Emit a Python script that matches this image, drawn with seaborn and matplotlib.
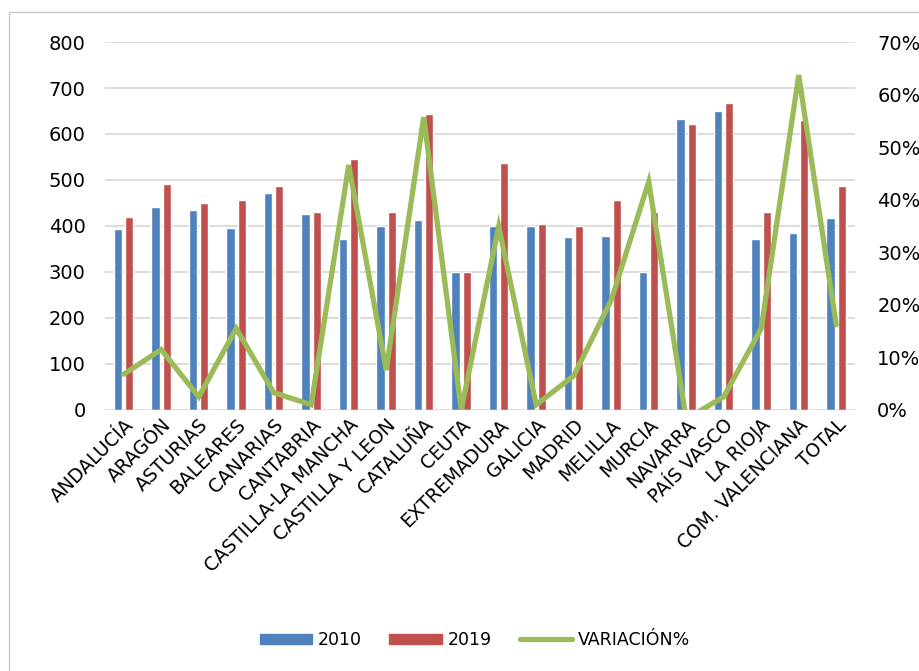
import matplotlib
matplotlib.use("Agg")
import matplotlib.pyplot as plt
import matplotlib.lines as mlines
import matplotlib.patches as mpatches
import pandas as pd
import seaborn as sns

# Data
regions = ["ANDALUCÍA", "ARAGÓN", "ASTURIAS", "BALEARES", "CANARIAS", "CANTABRIA",
           "CASTILLA-LA MANCHA", "CASTILLA Y LEON", "CATALUÑA", "CEUTA", "EXTREMADURA",
           "GALICIA", "MADRID", "MELILLA", "MURCIA", "NAVARRA", "PAÍS VASCO",
           "LA RIOJA", "COM. VALENCIANA", "TOTAL"]
v2010 = [393, 441, 435, 396, 472, 426, 372, 399, 413, 300, 400,
         400, 375, 379, 300, 633, 650, 372, 384, 417]
v2019 = [419, 491, 449, 457, 488, 430, 546, 430, 644, 300, 537,
         404, 399, 457, 430, 622, 667, 430, 630, 486]
variacion = [6.8, 11.5, 2.5, 15.5, 3.3, 1.0, 46.6, 7.6, 55.7, 0.0, 34.9,
             1.0, 6.5, 20.9, 43.4, -1.7, 2.5, 15.5, 63.7, 16.2]

BLUE = "#4F81BD"
RED = "#C0504D"
GREEN = "#9BBB59"

sns.set_style("white")
plt.rcParams["font.family"] = ["DejaVu Sans"]
plt.rcParams["text.color"] = "black"
plt.rcParams["xtick.color"] = "black"
plt.rcParams["ytick.color"] = "black"

bars = pd.DataFrame({
    "region": regions * 2,
    "valor": v2010 + v2019,
    "serie": ["2010"] * len(regions) + ["2019"] * len(regions),
})
line = pd.DataFrame({"region": regions, "var": [v / 100 for v in variacion]})

fig = plt.figure(figsize=(9.2, 6.71), dpi=100)
ax = fig.add_axes([0.1141, 0.389, 0.8152, 0.5484])

sns.barplot(data=bars, x="region", y="valor", hue="serie",
            palette=[BLUE, RED], saturation=1, width=0.59, gap=0.24, ax=ax,
            legend=False, zorder=2)
ax.set_xlim(-0.5, len(regions) - 0.5)
ax.set_ylim(0, 800)
ax.set_yticks(range(0, 801, 100))
ax.yaxis.grid(True, color="#D9D9D9", linewidth=1.3, zorder=0)
ax.set_axisbelow(True)
ax.set_xlabel("")
ax.set_ylabel("")
for s in ax.spines.values():
    s.set_visible(False)
ax.tick_params(axis="y", length=0, pad=14, labelsize=14)
ax.tick_params(axis="x", length=0, pad=4, labelsize=13.5)
plt.setp(ax.get_xticklabels(), rotation=45, ha="right", rotation_mode="anchor")

ax2 = ax.twinx()
sns.lineplot(data=line, x="region", y="var", color=GREEN, linewidth=3.8,
             sort=False, ax=ax2, solid_joinstyle="miter")
ax2.set_ylim(0, 0.7)
ax2.set_yticks([i / 10 for i in range(8)])
ax2.set_yticklabels([f"{i * 10}%" for i in range(8)])
ax2.set_ylabel("")
ax2.set_xlabel("")
for s in ax2.spines.values():
    s.set_visible(False)
ax2.tick_params(axis="y", length=0, pad=16, labelsize=14)

handles = [mpatches.Patch(color=BLUE, label="2010"),
           mpatches.Patch(color=RED, label="2019"),
           mlines.Line2D([], [], color=GREEN, linewidth=3.8, label="VARIACIÓN%")]
fig.legend(handles=handles, loc="center", bbox_to_anchor=(0.516, 0.046), ncol=3,
           frameon=False, fontsize=12.5, handlelength=3.0, handleheight=0.55,
           handletextpad=0.35, columnspacing=1.6)

# outer chart frame (left and top edges)
fig.add_artist(mlines.Line2D([9.5 / 920, 9.5 / 920], [1 - 12 / 671, 0],
                             color="#C8C8C8", linewidth=1.0, transform=fig.transFigure))
fig.add_artist(mlines.Line2D([9.5 / 920, 1], [1 - 12 / 671, 1 - 12 / 671],
                             color="#C8C8C8", linewidth=1.0, transform=fig.transFigure))

fig.savefig("out.png", dpi=100)
